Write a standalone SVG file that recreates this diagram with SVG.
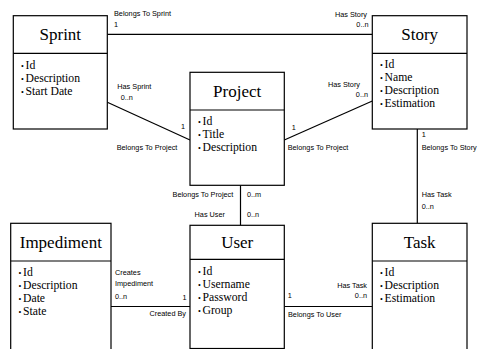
<svg xmlns="http://www.w3.org/2000/svg" width="480" height="349" viewBox="0 0 480 349">
  <style>
    .box { fill: #ffffff; stroke: #000000; stroke-width: 1.2; }
    .div { stroke: #000000; stroke-width: 1.2; }
    .serif { font-family: 'Liberation Serif', serif; fill: #000; }
    .title { font-size: 17px; text-anchor: middle; }
    .attr { font-size: 11.7px; }
    .dot { font-size: 8px; }
    .lbl { font-family: 'Liberation Sans', Arial, sans-serif; font-size: 7.3px; fill: #000; }
    .end { text-anchor: end; }
    .conn { stroke: #000000; stroke-width: 1.2; fill: none; }
  </style>

  <!-- relationships -->
  <g id="connectors">
    <line class="conn" x1="107.3" y1="34.3" x2="372.3" y2="34.3"/>
    <line class="conn" x1="107.3" y1="102.3" x2="190" y2="140"/>
    <line class="conn" x1="284.3" y1="140" x2="372.3" y2="101"/>
    <line class="conn" x1="417.3" y1="129" x2="417.3" y2="223.3"/>
    <line class="conn" x1="240.5" y1="185.3" x2="240.5" y2="225.3"/>
    <line class="conn" x1="111" y1="306.5" x2="190" y2="306.5"/>
    <line class="conn" x1="284.3" y1="306.5" x2="372.3" y2="306.5"/>

    <!-- Sprint / Story -->
    <text class="lbl" x="114" y="15.5">Belongs To Sprint</text>
    <text class="lbl" x="114" y="26.7">1</text>
    <text class="lbl end" x="367" y="16.7">Has Story</text>
    <text class="lbl end" x="368.5" y="26.7">0..n</text>

    <!-- Sprint / Project -->
    <text class="lbl" x="117.3" y="89.3">Has Sprint</text>
    <text class="lbl" x="120.7" y="100">0..n</text>
    <text class="lbl" x="181" y="129.3">1</text>
    <text class="lbl" x="116.7" y="150">Belongs To Project</text>

    <!-- Project / Story -->
    <text class="lbl end" x="360" y="87.3">Has Story</text>
    <text class="lbl end" x="368" y="97.3">0..n</text>
    <text class="lbl" x="291.7" y="130">1</text>
    <text class="lbl" x="287.7" y="150">Belongs To Project</text>

    <!-- Story / Task -->
    <text class="lbl" x="421.7" y="137.3">1</text>
    <text class="lbl" x="421.7" y="150">Belongs To Story</text>
    <text class="lbl" x="421.7" y="197.3">Has Task</text>
    <text class="lbl" x="421.7" y="209.3">0..n</text>

    <!-- Project / User -->
    <text class="lbl end" x="233.3" y="196.7">Belongs To Project</text>
    <text class="lbl" x="247" y="196.7">0..m</text>
    <text class="lbl end" x="225" y="216.7">Has User</text>
    <text class="lbl" x="247" y="216.7">0..n</text>

    <!-- Impediment / User -->
    <text class="lbl" x="115" y="275">Creates</text>
    <text class="lbl" x="115" y="286.3">Impediment</text>
    <text class="lbl" x="115" y="299">0..n</text>
    <text class="lbl end" x="186.5" y="300">1</text>
    <text class="lbl end" x="186" y="315.7">Created By</text>

    <!-- User / Task -->
    <text class="lbl end" x="367" y="287.7">Has Task</text>
    <text class="lbl end" x="367" y="298.3">0..n</text>
    <text class="lbl" x="287.7" y="298.3">1</text>
    <text class="lbl" x="288" y="316.7">Belongs To User</text>
  </g>

  <g id="sprint" class="serif">
    <rect class="box" x="13.3" y="15.7" width="94" height="113.3"/>
    <line class="div" x1="13.3" y1="53.3" x2="107.3" y2="53.3"/>
    <text class="title" x="60.3" y="40">Sprint</text>
    <text class="attr" x="21"><tspan class="dot" y="68.5">•</tspan><tspan x="25.5" y="68.5">Id</tspan></text>
    <text class="attr" x="21"><tspan class="dot" y="81.5">•</tspan><tspan x="25.5" y="81.5">Description</tspan></text>
    <text class="attr" x="21"><tspan class="dot" y="94.5">•</tspan><tspan x="25.5" y="94.5">Start Date</tspan></text>
  </g>

  <g id="story" class="serif">
    <rect class="box" x="372.3" y="15.7" width="94.7" height="113.3"/>
    <line class="div" x1="372.3" y1="53.3" x2="467" y2="53.3"/>
    <text class="title" x="419.7" y="40">Story</text>
    <text class="attr" x="380"><tspan class="dot" y="68">•</tspan><tspan x="384.5" y="68">Id</tspan></text>
    <text class="attr" x="380"><tspan class="dot" y="81">•</tspan><tspan x="384.5" y="81">Name</tspan></text>
    <text class="attr" x="380"><tspan class="dot" y="94">•</tspan><tspan x="384.5" y="94">Description</tspan></text>
    <text class="attr" x="380"><tspan class="dot" y="107">•</tspan><tspan x="384.5" y="107">Estimation</tspan></text>
  </g>

  <g id="project" class="serif">
    <rect class="box" x="190" y="72.3" width="94.3" height="113"/>
    <line class="div" x1="190" y1="110" x2="284.3" y2="110"/>
    <text class="title" x="237.2" y="96.7">Project</text>
    <text class="attr" x="198"><tspan class="dot" y="125">•</tspan><tspan x="202.5" y="125">Id</tspan></text>
    <text class="attr" x="198"><tspan class="dot" y="138">•</tspan><tspan x="202.5" y="138">Title</tspan></text>
    <text class="attr" x="198"><tspan class="dot" y="151">•</tspan><tspan x="202.5" y="151">Description</tspan></text>
  </g>

  <g id="impediment" class="serif">
    <rect class="box" x="10.7" y="223.3" width="100.3" height="140"/>
    <line class="div" x1="10.7" y1="261" x2="111" y2="261"/>
    <text class="title" x="60.8" y="247.7">Impediment</text>
    <text class="attr" x="18.5"><tspan class="dot" y="276">•</tspan><tspan x="23" y="276">Id</tspan></text>
    <text class="attr" x="18.5"><tspan class="dot" y="289">•</tspan><tspan x="23" y="289">Description</tspan></text>
    <text class="attr" x="18.5"><tspan class="dot" y="302">•</tspan><tspan x="23" y="302">Date</tspan></text>
    <text class="attr" x="18.5"><tspan class="dot" y="315">•</tspan><tspan x="23" y="315">State</tspan></text>
  </g>

  <g id="user" class="serif">
    <rect class="box" x="190" y="225.3" width="94.3" height="123.2"/>
    <line class="div" x1="190" y1="259.3" x2="284.3" y2="259.3"/>
    <text class="title" x="237.2" y="248">User</text>
    <text class="attr" x="198"><tspan class="dot" y="274.5">•</tspan><tspan x="202.5" y="274.5">Id</tspan></text>
    <text class="attr" x="198"><tspan class="dot" y="287.5">•</tspan><tspan x="202.5" y="287.5">Username</tspan></text>
    <text class="attr" x="198"><tspan class="dot" y="300.5">•</tspan><tspan x="202.5" y="300.5">Password</tspan></text>
    <text class="attr" x="198"><tspan class="dot" y="313.5">•</tspan><tspan x="202.5" y="313.5">Group</tspan></text>
  </g>

  <g id="task" class="serif">
    <rect class="box" x="372.3" y="223.3" width="94.7" height="140"/>
    <line class="div" x1="372.3" y1="261" x2="467" y2="261"/>
    <text class="title" x="419.7" y="247.7">Task</text>
    <text class="attr" x="380"><tspan class="dot" y="276">•</tspan><tspan x="384.5" y="276">Id</tspan></text>
    <text class="attr" x="380"><tspan class="dot" y="289">•</tspan><tspan x="384.5" y="289">Description</tspan></text>
    <text class="attr" x="380"><tspan class="dot" y="302">•</tspan><tspan x="384.5" y="302">Estimation</tspan></text>
  </g>
</svg>
